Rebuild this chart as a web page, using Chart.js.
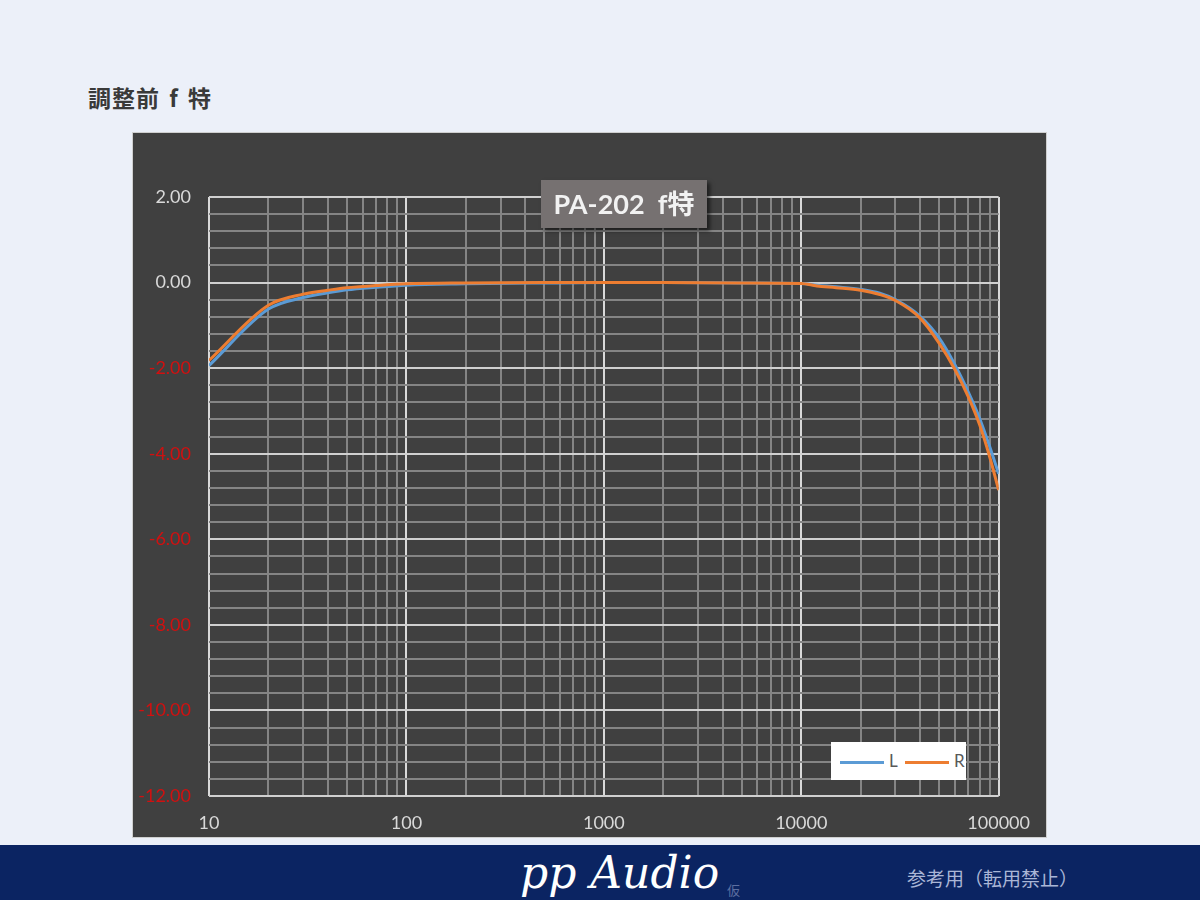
<!DOCTYPE html>
<html>
<head>
<meta charset="utf-8">
<script src="https://cdn.jsdelivr.net/npm/chart.js@4/dist/chart.umd.min.js"></script>
<style>
  html, body { margin: 0; padding: 0; }
  body { width: 1200px; height: 900px; background: #ecf0f9; position: relative; overflow: hidden;
         font-family: "Noto Sans CJK JP", sans-serif; }
  #heading { position: absolute; left: 88px; top: 80px; font-size: 23px; font-weight: bold; color: #3a3a3a;
             letter-spacing: 1px; word-spacing: 3px; }
  #box { position: absolute; left: 132px; top: 132px; width: 913px; height: 704px;
         background: #404040; border: 1px solid #cfcfcf; }
  #title { position: absolute; left: 541px; top: 180px; width: 166px; height: 48px; line-height: 48px;
           background: #767171; color: #f2f2f2; text-align: center; font-size: 27px; font-weight: bold;
           font-family: Lato, "Noto Sans CJK JP", sans-serif; box-shadow: 3px 3px 4px rgba(0,0,0,0.55); }
  #legend { position: absolute; left: 831px; top: 742px; width: 135px; height: 38px; background: #fff;
            font-family: Lato, sans-serif; font-size: 17px; color: #595959; }
  #legend .item { position: absolute; top: 0; height: 38px; line-height: 38px; }
  #legend .swatch { display: inline-block; width: 44px; height: 3px; vertical-align: middle; margin-right: 5px; }
  #footer { position: absolute; left: 0; top: 845px; width: 1200px; height: 55px; background: #0b2462; }
  #brand { position: absolute; left: 520px; top: 846px; color: #fff; font-size: 44px; font-style: italic;
           font-family: "DejaVu Serif", serif; line-height: 54px; letter-spacing: 0px; }
  #kari { position: absolute; left: 727px; top: 880px; color: #5d6fa0; font-size: 13px; }
  #note { position: absolute; left: 907px; top: 864px; color: #aab6d6; font-size: 19px; }
</style>
</head>
<body>
<div id="heading">調整前 f 特</div>
<div id="box"><canvas id="c"></canvas></div>
<div id="title">PA-202&nbsp; f特</div>
<div id="legend"></div>
<div id="footer"></div>
<div id="brand">pp Audio</div>
<div id="kari">仮</div>
<div id="note">参考用（転用禁止）</div>
<script>
// measured frequency response (Hz / dB)
const freq = [10, 20, 30, 40, 50, 70, 100, 200, 500, 1000, 2000, 5000, 10000, 12000, 15000,
  20000, 25000, 30000, 40000, 50000, 60000, 70000, 80000, 90000, 100000];
const levelL = [-1.94, -0.62, -0.35, -0.24, -0.17, -0.11, -0.06, -0.03, -0.01, 0, 0, -0.01, -0.02, -0.06, -0.1,
  -0.16, -0.25, -0.4, -0.79, -1.3, -1.92, -2.55, -3.17, -3.83, -4.47];
const levelR = [-1.82, -0.53, -0.27, -0.18, -0.12, -0.07, -0.03, -0.01, 0, 0, 0, -0.01, -0.02, -0.08, -0.12,
  -0.18, -0.28, -0.42, -0.83, -1.42, -2.03, -2.66, -3.32, -4.07, -4.85];

const seriesNames = ['L', 'R'];
const seriesColors = ['#5b9bd5', '#ed7d31'];
const decades = [10, 100, 1000, 10000, 100000];
const multipliers = [1, 2, 3, 4, 5, 6, 7, 8, 9];
const yMin = -12, yMax = 2, yMinorStep = 0.4, yMajorStep = 2;

const xGrid = [];
decades.slice(0, -1).forEach(d => multipliers.forEach(m => xGrid.push(d * m)));
xGrid.push(decades[decades.length - 1]);

const isMajorY = v => Math.abs(v / yMajorStep - Math.round(v / yMajorStep)) < 1e-6;
const isMajorX = v => decades.includes(v);

const toPoints = arr => freq.map((f, i) => ({ x: f, y: arr[i] }));

const ctx = document.getElementById('c').getContext('2d');
const chart = new Chart(ctx, {
  type: 'line',
  data: {
    datasets: [
      { label: seriesNames[0], data: toPoints(levelL), borderColor: seriesColors[0], borderWidth: 3,
        pointRadius: 0, cubicInterpolationMode: 'monotone', order: 1 },
      { label: seriesNames[1], data: toPoints(levelR), borderColor: seriesColors[1], borderWidth: 3,
        pointRadius: 0, cubicInterpolationMode: 'monotone', order: 0 },
    ]
  },
  options: {
    responsive: true,
    maintainAspectRatio: false,
    animation: false,
    layout: { padding: { left: 0, top: 64, right: 45, bottom: 0 } },
    scales: {
      x: {
        type: 'logarithmic',
        min: 10,
        max: 100000,
        afterBuildTicks: scale => { scale.ticks = xGrid.map(v => ({ value: v })) },
        afterFit: scale => { scale.height = 41 },
        border: { display: false },
        grid: {
          drawTicks: false,
          color: c => isMajorX(c.tick.value) ? '#d9d9d9' : '#858585',
          lineWidth: 2,
        },
        ticks: {
          autoSkip: false,
          maxRotation: 0,
          padding: 16,
          color: '#d9d9d9',
          font: { family: 'Lato', size: 18 },
          callback: v => isMajorX(v) ? String(v) : '',
        },
      },
      y: {
        min: yMin,
        max: yMax,
        afterFit: scale => { scale.width = 76 },
        border: { display: false },
        grid: {
          drawTicks: false,
          color: c => isMajorY(c.tick.value) ? '#d0d0d0' : '#858585',
          lineWidth: 2,
        },
        ticks: {
          stepSize: yMinorStep,
          autoSkip: false,
          padding: 18,
          color: c => c.tick.value < 0 ? '#d01010' : '#d9d9d9',
          font: { family: 'Lato', size: 18 },
          callback: v => isMajorY(v) ? v.toFixed(2) : '',
        },
      }
    },
    plugins: {
      legend: { display: false },
      tooltip: { enabled: false },
      title: { display: false },
    }
  }
});

// legend box built from the datasets
const legendEl = document.getElementById('legend');
const legendLeft = [9, 74];
chart.data.datasets.forEach((ds, i) => {
  const item = document.createElement('div');
  item.className = 'item';
  item.style.left = legendLeft[i] + 'px';
  item.innerHTML = '<span class="swatch" style="background:' + ds.borderColor + '"></span>' + ds.label;
  legendEl.appendChild(item);
});
</script>
</body>
</html>
